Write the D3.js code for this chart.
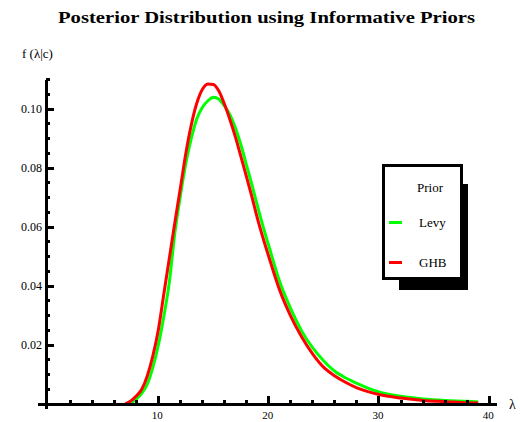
<!DOCTYPE html>
<html>
<head>
<meta charset="utf-8">
<script src="https://cdn.jsdelivr.net/npm/d3@7"></script>
<style>
  body { margin: 0; background: #ffffff; }
  text { font-family: "Liberation Serif", "DejaVu Serif", serif; fill: #000; }
</style>
</head>
<body>
<script>
// values
var lambdaRed = [7.0, 7.5, 8, 8.5, 9, 9.5, 10, 10.5, 11, 11.5, 12, 12.5, 13, 13.5, 14, 14.5, 15, 15.5,
  16, 16.5, 17, 17.5, 18, 18.5, 19, 19.5, 20, 21, 22, 23, 24, 25, 26, 27, 28, 29, 30, 32, 34, 36, 38, 39];
var ghbValues = [0, 0.001, 0.0027, 0.005, 0.0095, 0.0162, 0.0251, 0.0373, 0.0494, 0.0615, 0.0732, 0.0851,
  0.0948, 0.1021, 0.1067, 0.1085, 0.1083, 0.1060, 0.1016, 0.0963, 0.0904, 0.0837, 0.0769, 0.0700, 0.0627,
  0.0562, 0.0501, 0.0386, 0.0298, 0.0227, 0.0169, 0.0124, 0.0095, 0.0073, 0.0055, 0.0042, 0.0032, 0.0020,
  0.0012, 0.0008, 0.0004, 0.0003];

var lambdaGreen = [7.5, 8, 8.5, 9, 9.5, 10, 10.5, 11, 11.5, 12, 12.5, 13, 13.5, 14, 14.5, 15, 15.5,
  16, 16.5, 17, 17.5, 18, 18.5, 19, 19.5, 20, 21, 22, 23, 24, 25, 26, 27, 28, 29, 30, 32, 34, 36, 38, 39];
var levyValues = [0.0003, 0.0017, 0.0036, 0.0067, 0.0123, 0.0199, 0.0297, 0.0413, 0.0580, 0.0706, 0.0817,
  0.0902, 0.0968, 0.1006, 0.1028, 0.1040, 0.1033, 0.1010, 0.0980, 0.0935, 0.0877, 0.0809, 0.0741, 0.0670,
  0.0601, 0.0538, 0.0415, 0.0323, 0.0247, 0.0190, 0.0146, 0.0111, 0.0088, 0.0070, 0.0054, 0.0041, 0.0026,
  0.0017, 0.0012, 0.0009, 0.0007];

var xMajorTicks = [10, 20, 30, 40];
var xMinorTicks = [2, 4, 6, 8, 12, 14, 16, 18, 22, 24, 26, 28, 32, 34, 36, 38];
var yMajorTicks = [0.02, 0.04, 0.06, 0.08, 0.10];
var yMinorTicks = [0.005, 0.01, 0.015, 0.025, 0.03, 0.035, 0.045, 0.05, 0.055, 0.065, 0.07, 0.075,
  0.085, 0.09, 0.095, 0.105, 0.11];

var seriesNames = ["Levy", "GHB"];
var seriesColors = ["#00ff00", "#ff0000"];

var svg = d3.select("body").append("svg")
  .attr("width", 520)
  .attr("height", 422);

svg.append("rect").attr("width", 520).attr("height", 422).attr("fill", "#fff");

var x = d3.scaleLinear().domain([-0.18, 40.7]).range([46, 497]);
var y = d3.scaleLinear().domain([0, 0.11]).range([404, 79.5]);

// title
svg.append("text")
  .attr("x", 58).attr("y", 23)
  .attr("textLength", 417)
  .attr("lengthAdjust", "spacingAndGlyphs")
  .style("font-size", "17px")
  .style("font-weight", "bold")
  .text("Posterior Distribution using Informative Priors");

// y label
svg.append("text")
  .attr("x", 22).attr("y", 58)
  .style("font-size", "13px")
  .text("f (λ|c)");

// curves
var line = d3.line()
  .x(function(d) { return x(d[0]); })
  .y(function(d) { return y(d[1]); })
  .curve(d3.curveMonotoneX);

var levy = lambdaGreen.map(function(l, i) { return [l, levyValues[i]]; });
var ghb = lambdaRed.map(function(l, i) { return [l, ghbValues[i]]; });

svg.append("path")
  .datum(levy)
  .attr("d", line)
  .attr("fill", "none")
  .attr("stroke", seriesColors[0])
  .attr("stroke-width", 3);

svg.append("path")
  .datum(ghb)
  .attr("d", line)
  .attr("fill", "none")
  .attr("stroke", seriesColors[1])
  .attr("stroke-width", 3);

// axes, ticks point inward
var axes = svg.append("g").style("shape-rendering", "crispEdges");

axes.append("line")
  .attr("x1", 38).attr("x2", x(40.7))
  .attr("y1", y(0)).attr("y2", y(0))
  .attr("stroke", "#000").attr("stroke-width", 3);

axes.append("line")
  .attr("x1", x(-0.18)).attr("x2", x(-0.18))
  .attr("y1", 409).attr("y2", y(0.11))
  .attr("stroke", "#000").attr("stroke-width", 3);

axes.selectAll(".xmaj")
  .data(xMajorTicks)
  .enter().append("line")
  .attr("x1", function(d) { return x(d); })
  .attr("x2", function(d) { return x(d); })
  .attr("y1", y(0)).attr("y2", y(0) - 8)
  .attr("stroke", "#000").attr("stroke-width", 3);

axes.selectAll(".xmin")
  .data(xMinorTicks)
  .enter().append("line")
  .attr("x1", function(d) { return x(d); })
  .attr("x2", function(d) { return x(d); })
  .attr("y1", y(0)).attr("y2", y(0) - 4)
  .attr("stroke", "#000").attr("stroke-width", 3);

axes.selectAll(".ymaj")
  .data(yMajorTicks)
  .enter().append("line")
  .attr("x1", x(-0.18)).attr("x2", x(-0.18) + 8)
  .attr("y1", function(d) { return y(d); })
  .attr("y2", function(d) { return y(d); })
  .attr("stroke", "#000").attr("stroke-width", 3);

axes.selectAll(".ymin")
  .data(yMinorTicks)
  .enter().append("line")
  .attr("x1", x(-0.18)).attr("x2", x(-0.18) + 4)
  .attr("y1", function(d) { return y(d); })
  .attr("y2", function(d) { return y(d); })
  .attr("stroke", "#000").attr("stroke-width", 3);

svg.selectAll(".xlab")
  .data(xMajorTicks)
  .enter().append("text")
  .attr("x", function(d) { return x(d) - 1; })
  .attr("y", 419)
  .attr("text-anchor", "middle")
  .style("font-size", "11px")
  .text(function(d) { return d; });

svg.selectAll(".ylab")
  .data(yMajorTicks)
  .enter().append("text")
  .attr("x", 42)
  .attr("y", function(d) { return y(d) + 4; })
  .attr("text-anchor", "end")
  .style("font-size", "12px")
  .text(function(d) { return d3.format(".2f")(d); });

svg.append("text")
  .attr("x", 509).attr("y", 409)
  .style("font-size", "14px")
  .text("λ");

// legend with drop shadow
var legend = svg.append("g").style("shape-rendering", "crispEdges");

legend.append("rect")
  .attr("x", 399).attr("y", 184)
  .attr("width", 69).attr("height", 106)
  .attr("fill", "#000");

legend.append("rect")
  .attr("x", 383.5).attr("y", 165.5)
  .attr("width", 78).attr("height", 113)
  .attr("fill", "#fff")
  .attr("stroke", "#000")
  .attr("stroke-width", 3);

legend.append("text")
  .attr("x", 430).attr("y", 192)
  .attr("text-anchor", "middle")
  .style("font-size", "13px")
  .text("Prior");

var items = legend.selectAll(".item")
  .data(seriesNames)
  .enter().append("g")
  .attr("transform", function(d, i) { return "translate(0," + (222 + i * 40) + ")"; });

items.append("line")
  .attr("x1", 389).attr("x2", 402)
  .attr("y1", 0).attr("y2", 0)
  .attr("stroke", function(d, i) { return seriesColors[i]; })
  .attr("stroke-width", 3);

items.append("text")
  .attr("x", 419).attr("y", 5)
  .style("font-size", "13px")
  .text(function(d) { return d; });
</script>
</body>
</html>
